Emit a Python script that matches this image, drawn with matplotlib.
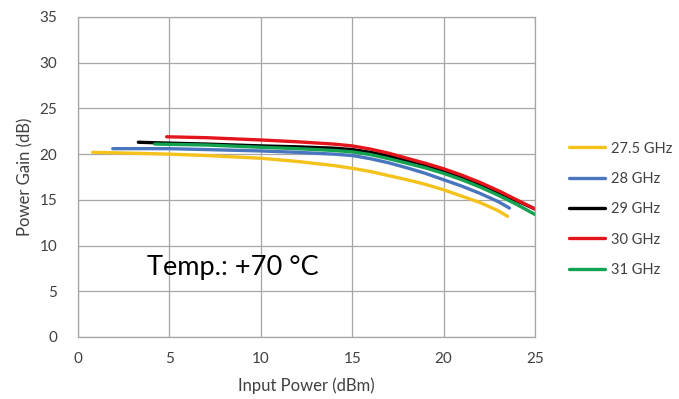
import matplotlib
matplotlib.use("Agg")
import matplotlib.pyplot as plt

plt.rcParams['font.family'] = ['Lato', 'DejaVu Sans']

labels = ["27.5 GHz", "28 GHz", "29 GHz", "30 GHz", "31 GHz"]
colors = ["#F5C21B", "#4A76C0", "#000000", "#E3141B", "#13A24F"]

pin_275 = [0.8, 3, 5, 7, 10, 12, 14, 15, 16, 17, 18, 19, 20, 21, 22, 23, 23.5]
gain_275 = [20.2, 20.1, 20.0, 19.85, 19.55, 19.2, 18.75, 18.45, 18.1, 17.65, 17.2, 16.7, 16.1, 15.4, 14.7, 13.8, 13.2]

pin_28 = [1.9, 3, 5, 7, 10, 12, 14, 15, 16, 17, 18, 19, 20, 21, 22, 23, 23.6]
gain_28 = [20.6, 20.6, 20.6, 20.5, 20.35, 20.2, 20.0, 19.85, 19.5, 19.05, 18.5, 17.9, 17.2, 16.5, 15.7, 14.8, 14.1]

pin_29 = [3.3, 5, 7, 10, 12, 14, 15, 16, 17, 18, 19, 20, 21, 22, 23, 24, 25]
gain_29 = [21.3, 21.2, 21.1, 20.9, 20.8, 20.65, 20.5, 20.2, 19.8, 19.3, 18.8, 18.2, 17.5, 16.7, 15.8, 14.9, 14.0]

pin_30 = [4.85, 7, 10, 12, 14, 15, 16, 17, 18, 19, 20, 21, 22, 23, 24, 25]
gain_30 = [21.9, 21.8, 21.55, 21.35, 21.1, 20.9, 20.55, 20.1, 19.55, 19.0, 18.4, 17.7, 16.9, 16.0, 15.0, 14.0]

pin_31 = [4.2, 7, 10, 12, 14, 15, 16, 17, 18, 19, 20, 21, 22, 23, 24, 25]
gain_31 = [21.1, 21.0, 20.75, 20.6, 20.4, 20.25, 19.95, 19.5, 19.0, 18.5, 17.9, 17.2, 16.4, 15.5, 14.5, 13.4]

xticks = [0, 5, 10, 15, 20, 25]
yticks = [0, 5, 10, 15, 20, 25, 30, 35]

fig = plt.figure(figsize=(6.79, 3.99), dpi=100)
ax = fig.add_axes([0.1149, 0.1554, 0.673, 0.802])

series = [(pin_275, gain_275), (pin_28, gain_28), (pin_29, gain_29),
          (pin_30, gain_30), (pin_31, gain_31)]
for (x, y), lab, c in zip(series, labels, colors):
    ax.plot(x, y, color=c, lw=2.4, label=lab, solid_capstyle='round')

ax.set_xlim(0, 25)
ax.set_ylim(0, 35)
ax.set_xticks(xticks)
ax.set_yticks(yticks)
ax.grid(True, color="#A6A6A6", lw=0.9)
ax.set_axisbelow(True)
for s in ax.spines.values():
    s.set_color("#A6A6A6")
    s.set_linewidth(0.9)
ax.tick_params(length=0, labelsize=11, colors="#404040")
ax.tick_params(axis='x', pad=11)
ax.tick_params(axis='y', pad=15)

ax.set_xlabel("Input Power (dBm)", fontsize=12, color="#404040", labelpad=8)
ax.set_ylabel("Power Gain (dB)", fontsize=12, color="#404040", labelpad=4)

ax.text(3.75, 6.8, "Temp.: +70 °C", fontsize=19.5, color="#000000", va="baseline")

fig.legend(loc="upper left", bbox_to_anchor=(0.818, 0.678), frameon=False,
           fontsize=10.5, handlelength=2.5, labelspacing=1.12,
           handletextpad=0.4, labelcolor="#404040")

fig.savefig("out.png", dpi=100)
